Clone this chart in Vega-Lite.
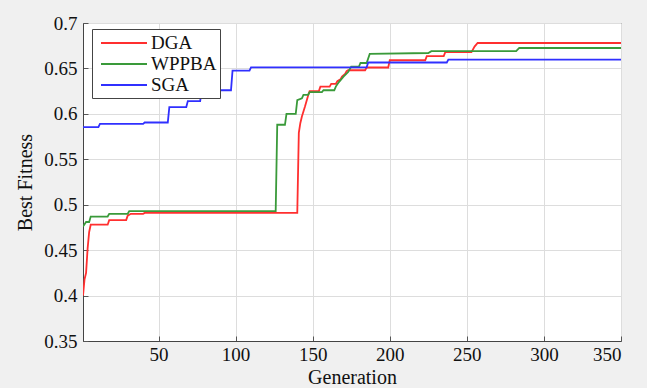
{
  "$schema": "https://vega.github.io/schema/vega-lite/v6.json",
  "width": 538,
  "height": 318,
  "autosize": {"type": "none"},
  "padding": {"left": 83, "top": 23, "right": 26, "bottom": 47},
  "background": "#f0f0f0",
  "config": {
    "view": {"fill": "white", "stroke": "#444", "strokeWidth": 1},
    "font": "'Liberation Serif', 'Times New Roman', 'DejaVu Serif', serif",
    "axis": {
      "labelFont": "'Liberation Serif', 'Times New Roman', 'DejaVu Serif', serif",
      "titleFont": "'Liberation Serif', 'Times New Roman', 'DejaVu Serif', serif"
    }
  },
  "data": {"values": [
    {"s":"DGA","g":1,"f":0.400},{"s":"DGA","g":2,"f":0.418},{"s":"DGA","g":3,"f":0.425},{"s":"DGA","g":4,"f":0.452},{"s":"DGA","g":5,"f":0.470},{"s":"DGA","g":6,"f":0.478},
    {"s":"DGA","g":17,"f":0.478},{"s":"DGA","g":18,"f":0.483},{"s":"DGA","g":29,"f":0.483},{"s":"DGA","g":30,"f":0.488},{"s":"DGA","g":32,"f":0.490},{"s":"DGA","g":40,"f":0.490},{"s":"DGA","g":41,"f":0.491},
    {"s":"DGA","g":140,"f":0.491},{"s":"DGA","g":141,"f":0.579},{"s":"DGA","g":142,"f":0.590},{"s":"DGA","g":143,"f":0.597},{"s":"DGA","g":145,"f":0.608},{"s":"DGA","g":147,"f":0.620},{"s":"DGA","g":148,"f":0.625},
    {"s":"DGA","g":154,"f":0.625},{"s":"DGA","g":155,"f":0.630},{"s":"DGA","g":161,"f":0.630},{"s":"DGA","g":162,"f":0.633},{"s":"DGA","g":165,"f":0.633},{"s":"DGA","g":166,"f":0.636},{"s":"DGA","g":168,"f":0.638},{"s":"DGA","g":169,"f":0.641},{"s":"DGA","g":171,"f":0.644},{"s":"DGA","g":172,"f":0.647},{"s":"DGA","g":173,"f":0.648},
    {"s":"DGA","g":184,"f":0.648},{"s":"DGA","g":185,"f":0.651},{"s":"DGA","g":199,"f":0.651},{"s":"DGA","g":200,"f":0.659},{"s":"DGA","g":223,"f":0.659},{"s":"DGA","g":224,"f":0.6636},{"s":"DGA","g":235,"f":0.6636},{"s":"DGA","g":236,"f":0.668},{"s":"DGA","g":253,"f":0.668},{"s":"DGA","g":255,"f":0.674},{"s":"DGA","g":257,"f":0.678},{"s":"DGA","g":350,"f":0.678},

    {"s":"WPPBA","g":1,"f":0.476},{"s":"WPPBA","g":3,"f":0.481},{"s":"WPPBA","g":5,"f":0.481},{"s":"WPPBA","g":6,"f":0.487},{"s":"WPPBA","g":17,"f":0.487},{"s":"WPPBA","g":18,"f":0.490},{"s":"WPPBA","g":30,"f":0.490},{"s":"WPPBA","g":31,"f":0.493},
    {"s":"WPPBA","g":126,"f":0.493},{"s":"WPPBA","g":127,"f":0.588},{"s":"WPPBA","g":132,"f":0.588},{"s":"WPPBA","g":133,"f":0.600},{"s":"WPPBA","g":139,"f":0.600},{"s":"WPPBA","g":140,"f":0.615},{"s":"WPPBA","g":143,"f":0.617},{"s":"WPPBA","g":144,"f":0.621},
    {"s":"WPPBA","g":147,"f":0.621},{"s":"WPPBA","g":148,"f":0.624},{"s":"WPPBA","g":156,"f":0.624},{"s":"WPPBA","g":157,"f":0.626},{"s":"WPPBA","g":164,"f":0.626},{"s":"WPPBA","g":165,"f":0.630},{"s":"WPPBA","g":167,"f":0.635},{"s":"WPPBA","g":170,"f":0.641},{"s":"WPPBA","g":173,"f":0.646},{"s":"WPPBA","g":175,"f":0.652},
    {"s":"WPPBA","g":180,"f":0.652},{"s":"WPPBA","g":181,"f":0.656},{"s":"WPPBA","g":185,"f":0.656},{"s":"WPPBA","g":187,"f":0.666},{"s":"WPPBA","g":225,"f":0.667},{"s":"WPPBA","g":227,"f":0.669},{"s":"WPPBA","g":282,"f":0.669},{"s":"WPPBA","g":284,"f":0.6725},{"s":"WPPBA","g":350,"f":0.6725},

    {"s":"SGA","g":1,"f":0.5855},{"s":"SGA","g":11,"f":0.5855},{"s":"SGA","g":12,"f":0.589},{"s":"SGA","g":40,"f":0.589},{"s":"SGA","g":41,"f":0.5905},{"s":"SGA","g":56,"f":0.5905},{"s":"SGA","g":57,"f":0.6075},
    {"s":"SGA","g":68,"f":0.6075},{"s":"SGA","g":69,"f":0.614},{"s":"SGA","g":77,"f":0.614},{"s":"SGA","g":78,"f":0.626},{"s":"SGA","g":97,"f":0.626},{"s":"SGA","g":98,"f":0.6475},{"s":"SGA","g":109,"f":0.6475},{"s":"SGA","g":110,"f":0.6512},
    {"s":"SGA","g":185,"f":0.6512},{"s":"SGA","g":186,"f":0.6565},{"s":"SGA","g":237,"f":0.6565},{"s":"SGA","g":238,"f":0.6597},{"s":"SGA","g":350,"f":0.6597}
  ]},
  "mark": {"type": "line", "strokeWidth": 1.8, "clip": true},
  "encoding": {
    "x": {
      "field": "g", "type": "quantitative",
      "scale": {"domain": [1, 350], "nice": false, "zero": false},
      "axis": {
        "values": [50, 100, 150, 200, 250, 300, 350],
        "title": "Generation",
        "labelFont": "'Liberation Serif', 'Times New Roman', 'DejaVu Serif', serif",
        "titleFont": "'Liberation Serif', 'Times New Roman', 'DejaVu Serif', serif",
        "titleFontSize": 20, "titleFontWeight": "normal", "titleColor": "#111", "titlePadding": 3,
        "labelFontSize": 19, "labelColor": "#111", "labelPadding": 9,
        "ticks": true, "tickSize": -5, "tickColor": "#555", "domainColor": "#444",
        "gridColor": "#dddddd", "gridWidth": 1
      }
    },
    "y": {
      "field": "f", "type": "quantitative",
      "scale": {"domain": [0.35, 0.7], "nice": false, "zero": false},
      "axis": {
        "values": [0.35, 0.4, 0.45, 0.5, 0.55, 0.6, 0.65, 0.7],
        "format": ".2~f",
        "title": "Best Fitness",
        "labelFont": "'Liberation Serif', 'Times New Roman', 'DejaVu Serif', serif",
        "titleFont": "'Liberation Serif', 'Times New Roman', 'DejaVu Serif', serif",
        "titleFontSize": 20, "titleFontWeight": "normal", "titleColor": "#111", "titlePadding": 8,
        "labelFontSize": 19, "labelColor": "#111", "labelPadding": 11,
        "ticks": true, "tickSize": -5, "tickColor": "#555", "domainColor": "#444",
        "gridColor": "#dddddd", "gridWidth": 1
      }
    },
    "color": {
      "field": "s", "type": "nominal",
      "scale": {"domain": ["DGA", "WPPBA", "SGA"], "range": ["#ff2f2f", "#3a9a3a", "#3030ff"]},
      "legend": {
        "orient": "none", "legendX": 9, "legendY": 6,
        "title": null,
        "symbolType": "M-2.3,0H2.3", "symbolSize": 400, "symbolStrokeWidth": 2, "symbolFillColor": "transparent", "symbolOffset": 18,
        "labelFont": "'Liberation Serif', 'Times New Roman', 'DejaVu Serif', serif",
        "labelFontSize": 19, "labelColor": "#111", "labelOffset": 16,
        "strokeColor": "#444", "fillColor": "white", "padding": 3, "rowPadding": 0
      }
    }
  }
}
